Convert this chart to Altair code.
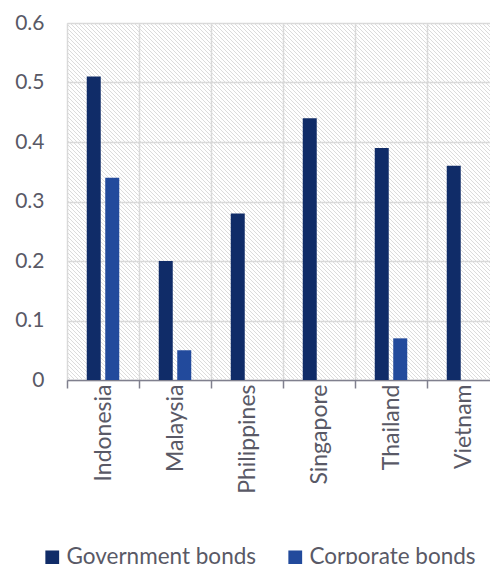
import altair as alt
import numpy as np
import pandas as pd

# Bond market figures by country
countries = ["Indonesia", "Malaysia", "Philippines", "Singapore", "Thailand", "Vietnam"]
government = [0.51, 0.20, 0.28, 0.44, 0.39, 0.36]
corporate = [0.34, 0.05, None, None, 0.07, None]
series = ["Government bonds", "Corporate bonds"]
series_colors = ["#102c68", "#224a9c"]
y_ticks = [0, 0.1, 0.2, 0.3, 0.4, 0.5, 0.6]

rows = []
for c, g, k in zip(countries, government, corporate):
    rows.append({"country": c, "series": series[0], "value": g})
    if k is not None:
        rows.append({"country": c, "series": series[1], "value": k})
df = pd.DataFrame(rows)

# The plot area runs a little past the right edge of the canvas
VIEW_W, PLOT_W, H = 423, 432, 357
FONT = "Lato"
TEXT = "#595966"
GRID = "#d9d9d9"

# Diagonal hatch texture for the plot background: 45-degree segments,
# expressed in plot pixels (y measured upward from the baseline).
spacing = 4.0
hx, hy, hx2, hy2 = [], [], [], []
for c in np.arange(-H, VIEW_W, spacing):
    x0, y0 = (c, 0.0) if c >= 0 else (0.0, -c)
    x1 = min(VIEW_W, H + c)
    y1 = min(H, VIEW_W - c)
    hx.append(x0)
    hy.append(H - y0)
    hx2.append(x1)
    hy2.append(H - y1)
hatch_df = pd.DataFrame({"hx": hx, "hy": hy, "hx2": hx2, "hy2": hy2})

hatch = alt.Chart(hatch_df).mark_rule(color="#dcdcdc", strokeWidth=1).encode(
    x=alt.X("hx:Q", scale=alt.Scale(domain=[0, VIEW_W], nice=False, zero=False), axis=None),
    x2="hx2",
    y=alt.Y("hy:Q", scale=alt.Scale(domain=[0, H], nice=False, zero=False), axis=None),
    y2="hy2",
)

bars = alt.Chart(df).mark_bar(width=14).encode(
    x=alt.X(
        "country:N",
        sort=countries,
        scale=alt.Scale(paddingInner=0, paddingOuter=0, range=[0, PLOT_W]),
        axis=alt.Axis(
            title=None,
            labelAngle=-90,
            labelFont=FONT,
            labelFontSize=23,
            labelColor=TEXT,
            labelPadding=-4,
            tickBand="extent",
            tickSize=8,
            tickColor="#80808e",
            tickWidth=1.5,
            domainColor="#80808e",
            domainWidth=1.5,
            grid=True,
            gridColor=GRID,
            gridWidth=1.5,
        ),
    ),
    xOffset=alt.XOffset(
        "series:N",
        sort=series,
        scale=alt.Scale(paddingInner=0, paddingOuter=0.946),
    ),
    y=alt.Y(
        "value:Q",
        scale=alt.Scale(domain=[0, 0.6], nice=False),
        axis=alt.Axis(
            title=None,
            values=y_ticks,
            format=".1~f",
            labelFont=FONT,
            labelFontSize=21,
            labelColor=TEXT,
            labelPadding=23,
            ticks=False,
            domain=False,
            grid=True,
            gridColor=GRID,
            gridWidth=1.5,
        ),
    ),
    color=alt.Color(
        "series:N",
        sort=series,
        scale=alt.Scale(domain=series, range=series_colors),
        legend=alt.Legend(
            title=None,
            orient="none",
            direction="horizontal",
            legendX=-26,
            legendY=523,
            symbolType="square",
            symbolSize=190,
            symbolStrokeWidth=0,
            symbolOpacity=1,
            labelFont=FONT,
            labelFontSize=22.5,
            labelColor=TEXT,
            labelOffset=3,
            labelLimit=400,
            columnPadding=27,
            padding=0,
        ),
    ),
)

chart = (
    alt.layer(hatch, bars)
    .resolve_scale(x="independent", y="independent")
    .properties(
        width=VIEW_W,
        height=H,
        autosize=alt.AutoSizeParams(type="none"),
        padding={"left": 67, "top": 23, "right": 0, "bottom": 184},
    )
    .configure_view(stroke=None)
    .configure(background="white")
)

chart.save("out.html", embed_options={"renderer": "svg", "actions": False})
